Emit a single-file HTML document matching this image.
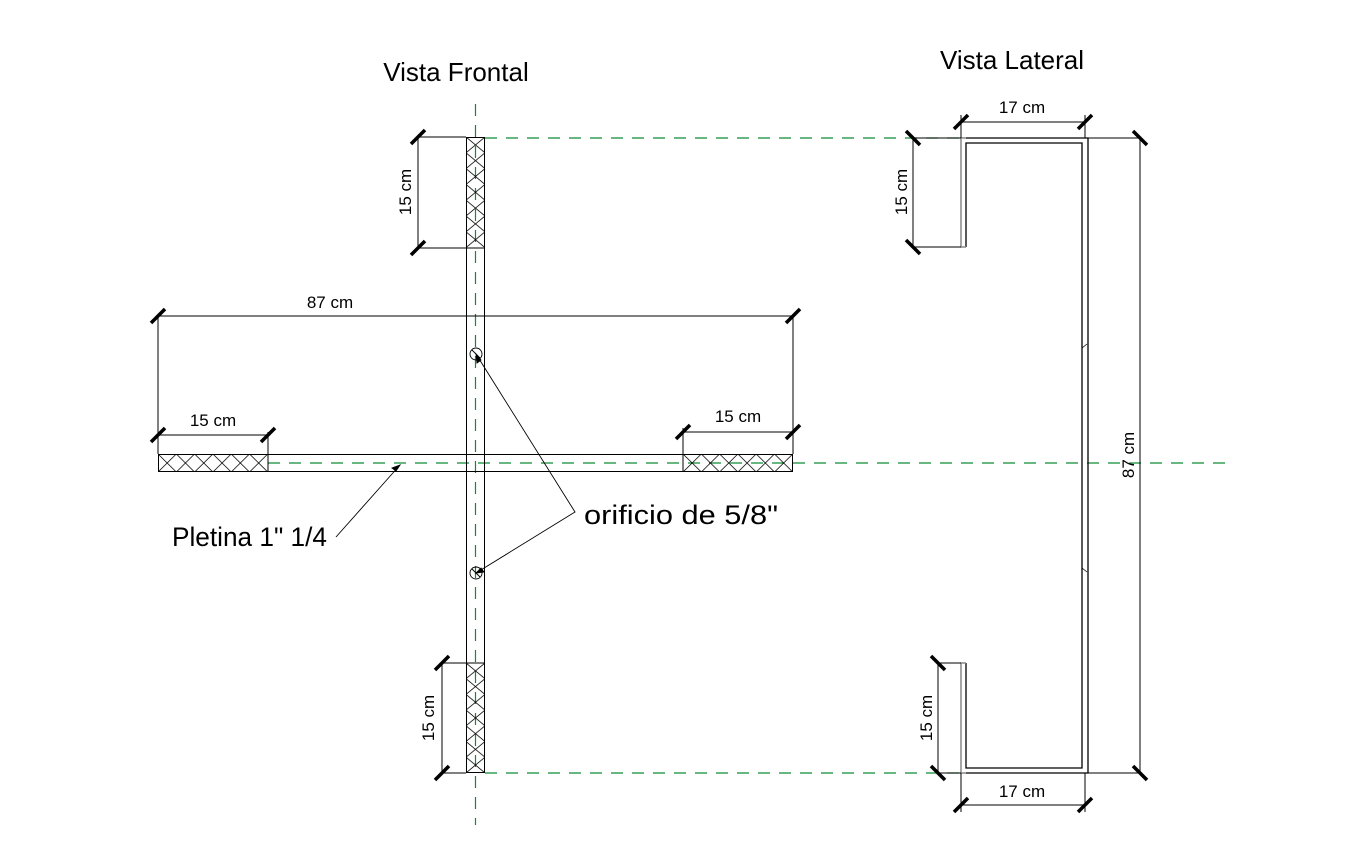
<!DOCTYPE html>
<html><head><meta charset="utf-8"><style>
html,body{margin:0;padding:0;background:#fff;}
svg{display:block;}
text{font-family:"Liberation Sans",Arial,sans-serif;fill:#000;}
</style></head><body>
<svg width="1372" height="860" viewBox="0 0 1372 860" xmlns="http://www.w3.org/2000/svg">
<defs>
<pattern id="hv" patternUnits="userSpaceOnUse" x="466" y="137" width="19" height="15.8">
<path d="M0,0 L19,15.8 M19,0 L0,15.8" stroke="#000" stroke-width="0.8" fill="none"/>
</pattern>
<pattern id="hv2" patternUnits="userSpaceOnUse" x="466" y="663" width="19" height="15.7">
<path d="M0,0 L19,15.7 M19,0 L0,15.7" stroke="#000" stroke-width="0.8" fill="none"/>
</pattern>
<pattern id="hh" patternUnits="userSpaceOnUse" x="158" y="454" width="18.3" height="18">
<path d="M0,0 L18.3,18 M18.3,0 L0,18" stroke="#000" stroke-width="0.8" fill="none"/>
</pattern>
<pattern id="hh2" patternUnits="userSpaceOnUse" x="683" y="454" width="18.3" height="18">
<path d="M0,0 L18.3,18 M18.3,0 L0,18" stroke="#000" stroke-width="0.8" fill="none"/>
</pattern>
</defs>

<text x="456" y="81" font-size="26" text-anchor="middle">Vista Frontal</text>
<text x="1012" y="69" font-size="26" text-anchor="middle">Vista Lateral</text>

<g stroke="#0f8a35" stroke-width="1.2" stroke-dasharray="12,9" fill="none">
<line x1="475.5" y1="104" x2="475.5" y2="825"/>
<line x1="268" y1="463" x2="1225" y2="463"/>
<line x1="485" y1="138" x2="960" y2="138"/>
<line x1="485" y1="773" x2="960" y2="773"/>
</g>

<rect x="466" y="137" width="19" height="111" fill="url(#hv)"/>
<rect x="466" y="663" width="19" height="110" fill="url(#hv2)"/>
<g stroke="#000" stroke-width="1" fill="none">
<rect x="466.5" y="137.5" width="18" height="635"/>
<line x1="466" y1="248" x2="485" y2="248"/>
<line x1="466" y1="663" x2="485" y2="663"/>
</g>
<rect x="158" y="454" width="110" height="18" fill="url(#hh)"/>
<rect x="683" y="454" width="110" height="18" fill="url(#hh2)"/>
<g stroke="#000" stroke-width="1" fill="none">
<rect x="158.5" y="454.5" width="634" height="17"/>
<line x1="268" y1="454" x2="268" y2="472"/>
<line x1="683" y1="454" x2="683" y2="472"/>
</g>

<g stroke="#000" stroke-width="0.9" fill="none">
<circle cx="476" cy="354" r="6"/>
<line x1="472" y1="350" x2="480" y2="358"/>
<circle cx="476" cy="573" r="6"/>
<line x1="472" y1="569" x2="480" y2="577"/>
<polyline points="476,354 575,512 476,573"/>
<line x1="336" y1="537" x2="400" y2="465"/>
<path d="M476,354 l1,9 l4,-3 z M476,573 l8,-1 l-3,-4 z M400,465 l-8,3 l4,3 z" fill="#000"/>
</g>
<text x="584" y="524" font-size="26.5" textLength="194" lengthAdjust="spacingAndGlyphs">orificio de 5/8"</text>
<text x="172" y="546" font-size="26.5" textLength="155" lengthAdjust="spacingAndGlyphs">Pletina 1" 1/4</text>

<g stroke="#000" stroke-width="1" fill="none">
<line x1="418" y1="137" x2="466" y2="137"/>
<line x1="418" y1="248" x2="466" y2="248"/>
<line x1="418" y1="137" x2="418" y2="248"/>
<line x1="442" y1="663" x2="466" y2="663"/>
<line x1="442" y1="773" x2="466" y2="773"/>
<line x1="442" y1="663" x2="442" y2="773"/>
<line x1="158" y1="316" x2="793" y2="316"/>
<line x1="158" y1="316" x2="158" y2="454"/>
<line x1="793" y1="316" x2="793" y2="454"/>
<line x1="158" y1="435" x2="268" y2="435"/>
<line x1="268" y1="432" x2="268" y2="454"/>
<line x1="683" y1="432" x2="793" y2="432"/>
<line x1="683" y1="428" x2="683" y2="454"/>
</g>
<g stroke="#000" stroke-width="3.5">
<line x1="411" y1="144" x2="425" y2="130"/>
<line x1="411" y1="255" x2="425" y2="241"/>
<line x1="435" y1="670" x2="449" y2="656"/>
<line x1="435" y1="780" x2="449" y2="766"/>
<line x1="151" y1="323" x2="165" y2="309"/>
<line x1="786" y1="323" x2="800" y2="309"/>
<line x1="151" y1="442" x2="165" y2="428"/>
<line x1="261" y1="442" x2="275" y2="428"/>
<line x1="676" y1="439" x2="690" y2="425"/>
<line x1="786" y1="439" x2="800" y2="425"/>
</g>
<text x="330" y="308" font-size="17" text-anchor="middle">87 cm</text>
<text x="213" y="426" font-size="17" text-anchor="middle">15 cm</text>
<text x="738" y="422" font-size="17" text-anchor="middle">15 cm</text>
<text transform="translate(411,192) rotate(-90)" font-size="17" text-anchor="middle">15 cm</text>
<text transform="translate(434,718) rotate(-90)" font-size="17" text-anchor="middle">15 cm</text>

<g stroke="#000" stroke-width="1.3" fill="none">
<polyline points="966,138 1088,138 1088,773 966,773"/>
<polyline points="966,247 966,143 1082,143 1082,768 966,768 966,663"/>
</g>
<g stroke="#888" stroke-width="1.5" fill="none">
<polyline points="966,247 961,247 961,138 966,138"/>
<polyline points="966,663 961,663 961,773 966,773"/>
</g>
<g stroke="#000" stroke-width="0.8" fill="none">
<path d="M1082,348 l5,-4 M1082,568 l5,4"/>
</g>
<g stroke="#000" stroke-width="1" fill="none">
<line x1="961" y1="122" x2="1085" y2="122"/>
<line x1="961" y1="115" x2="961" y2="138"/>
<line x1="1085" y1="115" x2="1085" y2="138"/>
<line x1="913" y1="138" x2="961" y2="138"/>
<line x1="913" y1="247" x2="961" y2="247"/>
<line x1="913" y1="138" x2="913" y2="247"/>
<line x1="1088" y1="138" x2="1140" y2="138"/>
<line x1="1088" y1="773" x2="1140" y2="773"/>
<line x1="1140" y1="138" x2="1140" y2="773"/>
<line x1="938" y1="663" x2="961" y2="663"/>
<line x1="938" y1="773" x2="961" y2="773"/>
<line x1="938" y1="663" x2="938" y2="773"/>
<line x1="961" y1="805" x2="1085" y2="805"/>
<line x1="961" y1="773" x2="961" y2="812"/>
<line x1="1085" y1="773" x2="1085" y2="812"/>
</g>
<g stroke="#000" stroke-width="3.5">
<line x1="954" y1="129" x2="968" y2="115"/>
<line x1="1078" y1="129" x2="1092" y2="115"/>
<line x1="906" y1="131" x2="920" y2="145"/>
<line x1="906" y1="240" x2="920" y2="254"/>
<line x1="1133" y1="131" x2="1147" y2="145"/>
<line x1="1133" y1="766" x2="1147" y2="780"/>
<line x1="931" y1="656" x2="945" y2="670"/>
<line x1="931" y1="766" x2="945" y2="780"/>
<line x1="954" y1="812" x2="968" y2="798"/>
<line x1="1078" y1="812" x2="1092" y2="798"/>
</g>
<text x="1022" y="113" font-size="17" text-anchor="middle">17 cm</text>
<text x="1022" y="797" font-size="17" text-anchor="middle">17 cm</text>
<text transform="translate(907,192) rotate(-90)" font-size="17" text-anchor="middle">15 cm</text>
<text transform="translate(932,718) rotate(-90)" font-size="17" text-anchor="middle">15 cm</text>
<text transform="translate(1134,455) rotate(-90)" font-size="17" text-anchor="middle">87 cm</text>
</svg>
</body></html>
